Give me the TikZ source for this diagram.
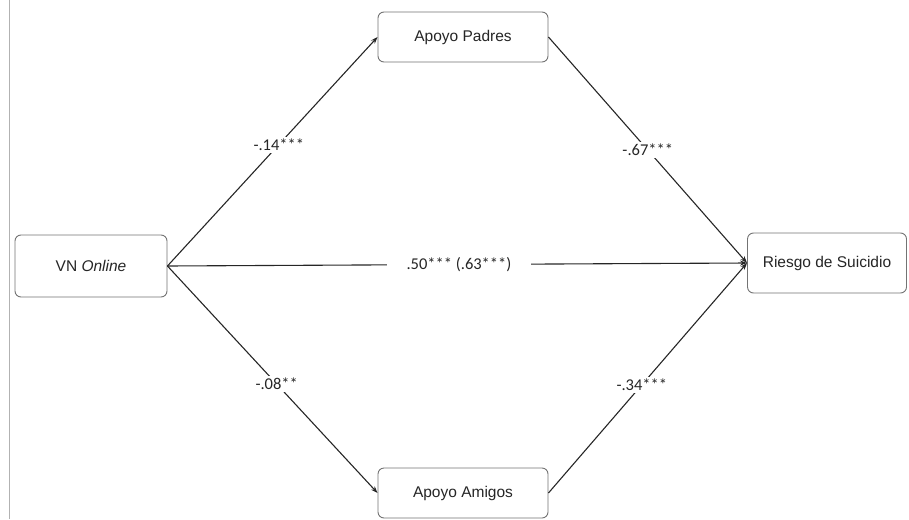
\documentclass[tikz,border=0pt]{standalone}
\usepackage{fontspec}
\setmainfont{Liberation Sans}
\newfontfamily\labelfont{Carlito}
\usetikzlibrary{arrows.meta}
\begin{document}
\begin{tikzpicture}[x=1pt,y=-1pt,
  box/.style={draw=black!55,line width=0.9pt,rounded corners=6pt,fill=white,
    minimum width=150pt,minimum height=50pt,inner sep=0pt,font=\fontsize{15.5}{18}\selectfont,text=black!85},
  path/.style={draw=black!85,line width=1.1pt,-{Stealth[length=7pt,width=5pt]}},
  coef/.style={fill=white,inner xsep=3pt,inner ysep=2pt,font=\labelfont\fontsize{16.5}{19}\selectfont,text=black!85}]
  \useasboundingbox (0,0) rectangle (909,519);
  % left margin rule
  \draw[black!30,line width=0.8pt] (9,0) -- (9,519);
  % variables
  \node[box,minimum height=62pt,minimum width=152pt] (vn) at (91,266) {VN \textit{Online}};
  \node[box,minimum width=170pt] (padres) at (463,37) {Apoyo Padres};
  \node[box,minimum width=170pt] (amigos) at (463,493) {Apoyo Amigos};
  \node[box,minimum width=159pt,minimum height=60pt] (riesgo) at (827,263) {Riesgo de Suicidio};
  % paths with coefficients
  \draw[path] (vn.east) -- node[coef,pos=0.53] {-.14***} (padres.west);
  \draw[path] (padres.east) -- node[coef,pos=0.5] {-.67***} (riesgo.west);
  \draw[path] (vn.east) -- node[coef,pos=0.503,inner xsep=20pt] {.50*** (.63***)} (riesgo.west);
  \draw[path] (vn.east) -- node[coef,pos=0.52] {-.08**} (amigos.west);
  \draw[path] (amigos.east) -- node[coef,pos=0.47] {-.34***} (riesgo.west);
\end{tikzpicture}
\end{document}
